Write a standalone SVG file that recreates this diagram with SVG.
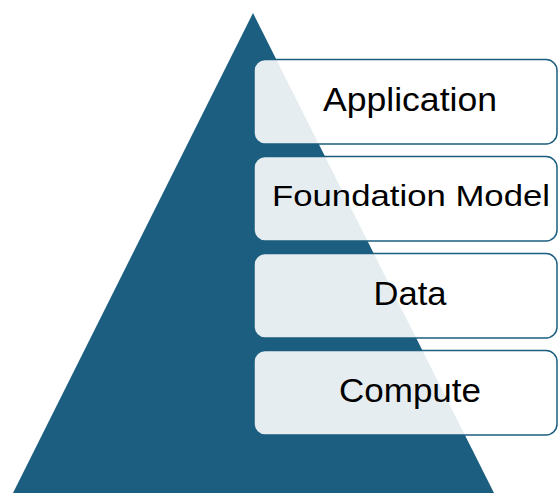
<svg xmlns="http://www.w3.org/2000/svg" width="558" height="493" viewBox="0 0 558 493">
  <style>
    .layer { fill: #ffffff; fill-opacity: 0.89; stroke: #1b5e7f; stroke-width: 1.5; }
    .label { font-family: "Liberation Sans", Arial, sans-serif; fill: #000000; text-anchor: middle; }
  </style>
  <rect x="0" y="0" width="558" height="493" fill="#ffffff"/>
  <g id="pyramid">
    <polygon points="253,13 13,493 494,493" fill="#1b5e7f"/>
  </g>
  <g id="application">
    <rect class="layer" x="254" y="59.5" width="303" height="84.5" rx="11"/>
    <text class="label" x="410" y="111" font-size="33" textLength="174" lengthAdjust="spacingAndGlyphs">Application</text>
  </g>
  <g id="foundation-model">
    <rect class="layer" x="254" y="156.5" width="303" height="84.5" rx="11"/>
    <text class="label" x="411" y="206" font-size="30" textLength="278" lengthAdjust="spacingAndGlyphs">Foundation Model</text>
  </g>
  <g id="data">
    <rect class="layer" x="254" y="253.5" width="303" height="84.5" rx="11"/>
    <text class="label" x="410" y="305" font-size="33" textLength="73" lengthAdjust="spacingAndGlyphs">Data</text>
  </g>
  <g id="compute">
    <rect class="layer" x="254" y="350.5" width="303" height="84.5" rx="11"/>
    <text class="label" x="410" y="402" font-size="33" textLength="142" lengthAdjust="spacingAndGlyphs">Compute</text>
  </g>
  <g id="connectors"></g>
</svg>
